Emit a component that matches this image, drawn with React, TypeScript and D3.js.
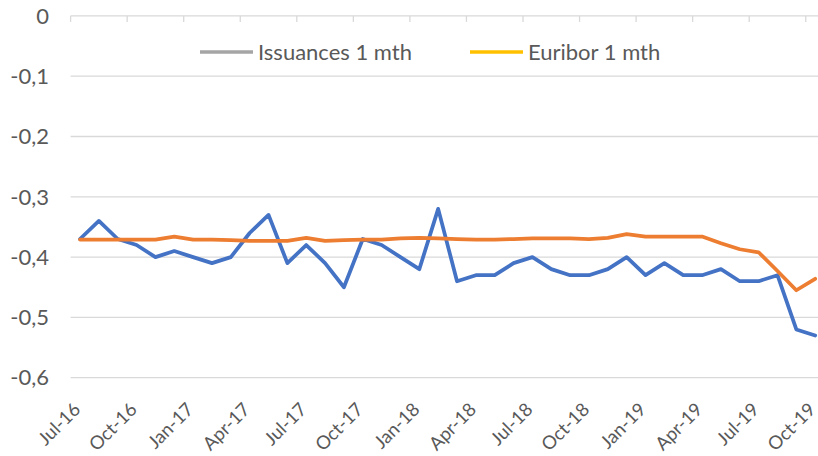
import React, { useEffect, useRef } from 'react';
import * as d3 from 'd3';

// monthly categories Jul-16 .. Oct-19
const months = [
  'Jul-16', 'Aug-16', 'Sep-16', 'Oct-16', 'Nov-16', 'Dec-16',
  'Jan-17', 'Feb-17', 'Mar-17', 'Apr-17', 'May-17', 'Jun-17',
  'Jul-17', 'Aug-17', 'Sep-17', 'Oct-17', 'Nov-17', 'Dec-17',
  'Jan-18', 'Feb-18', 'Mar-18', 'Apr-18', 'May-18', 'Jun-18',
  'Jul-18', 'Aug-18', 'Sep-18', 'Oct-18', 'Nov-18', 'Dec-18',
  'Jan-19', 'Feb-19', 'Mar-19', 'Apr-19', 'May-19', 'Jun-19',
  'Jul-19', 'Aug-19', 'Sep-19', 'Oct-19'
];

const issuances = [
  -0.37, -0.34, -0.37, -0.38, -0.40, -0.39,
  -0.40, -0.41, -0.40, -0.36, -0.33, -0.41,
  -0.38, -0.41, -0.45, -0.37, -0.38, -0.40,
  -0.42, -0.32, -0.44, -0.43, -0.43, -0.41,
  -0.40, -0.42, -0.43, -0.43, -0.42, -0.40,
  -0.43, -0.41, -0.43, -0.43, -0.42, -0.44,
  -0.44, -0.43, -0.52, -0.53
];

const euribor = [
  -0.371, -0.371, -0.371, -0.371, -0.371, -0.366,
  -0.371, -0.371, -0.372, -0.373, -0.373, -0.373,
  -0.368, -0.373, -0.372, -0.371, -0.371, -0.369,
  -0.368, -0.369, -0.370, -0.371, -0.371, -0.370,
  -0.369, -0.369, -0.369, -0.370, -0.368, -0.362,
  -0.366, -0.366, -0.366, -0.366, -0.377, -0.387,
  -0.392, -0.423, -0.455, -0.436
];

const yTicks = [0, -0.1, -0.2, -0.3, -0.4, -0.5, -0.6];

const legendItems = [
  { label: 'Issuances 1 mth', color: '#A5A5A5' },
  { label: 'Euribor 1 mth', color: '#FFC000' }
];

export default function App() {
  const svgRef = useRef<SVGSVGElement>(null);

  useEffect(() => {
    const svg = d3.select(svgRef.current);
    svg.selectAll('*').remove();

    const W = 818;
    const left = 70.6, top = 15.9, bottom = 377.7;
    const catW = 18.85;
    const font = 'Lato, "Open Sans", sans-serif';
    const fs = 22;

    const x = d3.scaleBand<string>()
      .domain(months)
      .range([left, left + catW * months.length]);
    const cx = (m: string) => (x(m) as number) + x.bandwidth() / 2;

    const y = d3.scaleLinear().domain([-0.6, 0]).range([bottom, top]);

    // gridlines
    svg.append('g')
      .selectAll('line')
      .data(yTicks.filter(d => d !== 0))
      .join('line')
      .attr('x1', left)
      .attr('x2', W)
      .attr('y1', d => y(d))
      .attr('y2', d => y(d))
      .attr('stroke', '#d9d9d9')
      .attr('stroke-width', 1.3);

    // category axis sits on the zero line
    svg.append('line')
      .attr('x1', left).attr('x2', W)
      .attr('y1', y(0)).attr('y2', y(0))
      .attr('stroke', '#d9d9d9').attr('stroke-width', 1.3);

    const tickMonths = months.filter((_, i) => i % 3 === 0);
    svg.append('g')
      .selectAll('line')
      .data(tickMonths)
      .join('line')
      .attr('x1', d => x(d) as number)
      .attr('x2', d => x(d) as number)
      .attr('y1', y(0))
      .attr('y2', y(0) + 6)
      .attr('stroke', '#d9d9d9')
      .attr('stroke-width', 1.3);

    // y labels
    svg.append('g')
      .selectAll('text')
      .data(yTicks)
      .join('text')
      .attr('x', 49)
      .attr('y', d => y(d))
      .attr('dy', '0.35em')
      .attr('text-anchor', 'end')
      .attr('font-family', font)
      .attr('font-size', fs)
      .attr('fill', '#595959')
      .text(d => d === 0 ? '0' : d3.format('.1f')(d).replace('.', ',').replace('−', '-'));

    // x labels, rotated
    svg.append('g')
      .selectAll('text')
      .data(tickMonths)
      .join('text')
      .attr('transform', d => `translate(${cx(d) + 1.5},${bottom + 33}) rotate(-45)`)
      .attr('text-anchor', 'end')
      .attr('font-family', font)
      .attr('font-size', 18.5)
      .attr('fill', '#595959')
      .text(d => d);

    const line = d3.line<number>()
      .x((_, i) => cx(months[i]))
      .y(d => y(d));

    svg.append('path')
      .datum(issuances)
      .attr('d', line)
      .attr('fill', 'none')
      .attr('stroke', '#4472C4')
      .attr('stroke-width', 3.75)
      .attr('stroke-linejoin', 'round')
      .attr('stroke-linecap', 'round');

    svg.append('path')
      .datum(euribor)
      .attr('d', line)
      .attr('fill', 'none')
      .attr('stroke', '#ED7D31')
      .attr('stroke-width', 3.75)
      .attr('stroke-linejoin', 'round')
      .attr('stroke-linecap', 'round');

    // legend
    const legX = [200, 470];
    legendItems.forEach((item, i) => {
      const g = svg.append('g').attr('transform', `translate(${legX[i]},52)`);
      g.append('line')
        .attr('x1', 0).attr('x2', 53)
        .attr('stroke', item.color)
        .attr('stroke-width', 3.5);
      g.append('text')
        .attr('x', 58)
        .attr('dy', '0.35em')
        .attr('font-family', font)
        .attr('font-size', fs)
        .attr('fill', '#595959')
        .text(item.label);
    });
  }, []);

  return (
    <div style={{ position: 'fixed', left: 0, top: 0, width: 818, height: 456, background: '#fff' }}>
      <svg ref={svgRef} width={818} height={456} style={{ display: 'block' }}></svg>
    </div>
  );
}
